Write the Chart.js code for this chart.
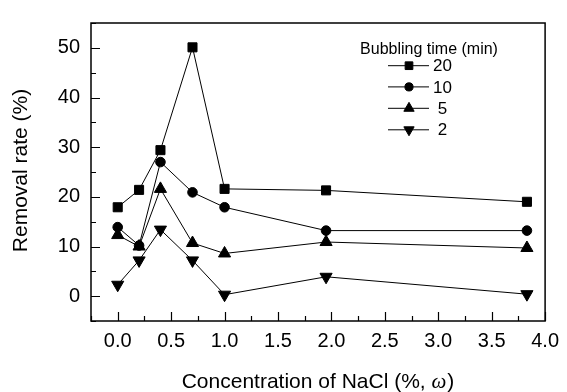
<!DOCTYPE html>
<html>
<head>
<meta charset="utf-8">
<script src="https://cdn.jsdelivr.net/npm/chart.js@4.4.1/dist/chart.umd.min.js"></script>
<style>
  html, body { margin: 0; padding: 0; background: #fff; }
  #wrap { width: 567px; height: 392px; position: relative; }
</style>
</head>
<body>
<div id="wrap"><canvas id="removalChart"></canvas></div>
<script>
// NaCl concentration (%, w) for each measurement
const naclConc = [0, 0.2, 0.4, 0.7, 1.0, 1.95, 3.83];

// removal rate (%) per bubbling time
const bubbling20 = [17.9, 21.4, 29.4, 50.1, 21.6, 21.3, 19.0];
const bubbling10 = [13.9, 10.2, 27.0, 20.9, 17.9, 13.2, 13.2];
const bubbling5 = [12.3, 10.0, 21.6, 10.7, 8.6, 10.9, 9.7];
const bubbling2 = [2.3, 7.2, 13.4, 7.2, 0.3, 3.9, 0.4];

const seriesLabels = ['20', '10', '5', '2'];
const xTicks = [0, 0.5, 1.0, 1.5, 2.0, 2.5, 3.0, 3.5, 4.0];
const yTicks = [0, 10, 20, 30, 40, 50];

const FONT = "'Liberation Sans', Arial, sans-serif";
const SERIF_IT = "italic 21px 'Liberation Serif', 'Times New Roman', serif";

const toPoints = (ys) => ys.map((v, i) => ({ x: naclConc[i], y: v }));

const makeSet = (label, data, style, radius, rotation) => ({
    label,
    data: toPoints(data),
    borderColor: '#000',
    backgroundColor: '#000',
    borderWidth: 1,
    pointStyle: style,
    pointRadius: radius,
    pointRotation: rotation || 0,
    pointBorderWidth: 1,
    pointBackgroundColor: '#000',
    pointBorderColor: '#000',
    tension: 0
});

// box around the plot + inward major/minor ticks
const frameTicks = {
    id: 'frameTicks',
    afterDraw(chart) {
        const { ctx, chartArea: a, scales: { x, y } } = chart;
        ctx.save();
        ctx.strokeStyle = '#000';
        ctx.lineWidth = 1.5;
        ctx.strokeRect(a.left, a.top, a.right - a.left, a.bottom - a.top);

        ctx.lineWidth = 1.2;
        ctx.beginPath();
        for (let v = x.min; v <= x.max + 1e-6; v += 0.25) {
            const major = xTicks.some(t => Math.abs(t - v) < 1e-6);
            const px = Math.round(x.getPixelForValue(v)) + 0.5;
            ctx.moveTo(px, a.bottom);
            ctx.lineTo(px, a.bottom - (major ? 9 : 5));
        }
        for (let v = y.min; v <= y.max + 1e-6; v += 5) {
            const major = yTicks.includes(v);
            const py = Math.round(y.getPixelForValue(v)) + 0.5;
            ctx.moveTo(a.left, py);
            ctx.lineTo(a.left + (major ? 9 : 5), py);
        }
        ctx.stroke();
        ctx.restore();
    }
};

// axis titles (x title carries an italic omega)
const axisTitles = {
    id: 'axisTitles',
    afterDraw(chart) {
        const { ctx } = chart;
        ctx.save();
        ctx.fillStyle = '#000';
        ctx.textBaseline = 'alphabetic';

        const partA = 'Concentration of NaCl (%, ';
        const partB = '\u03C9';
        const partC = ')';
        ctx.font = '21px ' + FONT;
        const wA = ctx.measureText(partA).width;
        const wC = ctx.measureText(partC).width;
        ctx.font = SERIF_IT;
        const wB = ctx.measureText(partB).width;
        const xs = 317.5 - (wA + wB + wC) / 2;
        const base = 388;
        ctx.font = '21px ' + FONT;
        ctx.fillText(partA, xs, base);
        ctx.font = SERIF_IT;
        ctx.fillText(partB, xs + wA, base);
        ctx.font = '21px ' + FONT;
        ctx.fillText(partC, xs + wA + wB + 1, base);

        ctx.translate(27, 170.5);
        ctx.rotate(-Math.PI / 2);
        ctx.textAlign = 'center';
        ctx.fillText('Removal rate (%)', 0, 0);
        ctx.restore();
    }
};

// legend: line-marker-line symbols under a title
const markerLegend = {
    id: 'markerLegend',
    afterDraw(chart) {
        const { ctx } = chart;
        ctx.save();
        ctx.fillStyle = '#000';
        ctx.strokeStyle = '#000';
        ctx.font = '16px ' + FONT;
        ctx.textAlign = 'center';
        ctx.textBaseline = 'alphabetic';
        ctx.fillText('Bubbling time (min)', 429, 54);

        ctx.font = '17px ' + FONT;
        ctx.textAlign = 'left';
        ctx.textBaseline = 'middle';
        const rows = [65.7, 86.9, 108.3, 129.8];
        chart.data.datasets.forEach((ds, i) => {
            const yy = rows[i];
            ctx.lineWidth = 1;
            ctx.beginPath();
            ctx.moveTo(388, yy);
            ctx.lineTo(429, yy);
            ctx.stroke();
            Chart.helpers.drawPoint(ctx, {
                pointStyle: ds.pointStyle,
                radius: ds.pointRadius * 0.85,
                rotation: ds.pointRotation,
                borderWidth: 1
            }, 409, yy);
            const txt = ds.label.length === 1 ? ' ' + ds.label : ds.label;
            ctx.fillText(txt, 433, yy + 1);
        });
        ctx.restore();
    }
};

new Chart(document.getElementById('removalChart'), {
    type: 'line',
    data: {
        datasets: [
            makeSet(seriesLabels[0], bubbling20, 'rect', 6.4),
            makeSet(seriesLabels[1], bubbling10, 'circle', 4.8),
            makeSet(seriesLabels[2], bubbling5, 'triangle', 7),
            makeSet(seriesLabels[3], bubbling2, 'triangle', 7, 180)
        ]
    },
    options: {
        responsive: true,
        maintainAspectRatio: false,
        animation: false,
        layout: { padding: { top: 13, right: 15, left: 0, bottom: 0 } },
        plugins: {
            legend: { display: false },
            tooltip: { enabled: false }
        },
        scales: {
            x: {
                type: 'linear',
                min: -0.25,
                max: 4.0,
                afterFit: (s) => { s.height = 71; },
                afterBuildTicks: (s) => { s.ticks = xTicks.map(v => ({ value: v })); },
                grid: { display: false, drawTicks: false },
                border: { display: false },
                ticks: {
                    padding: 8,
                    color: '#000',
                    font: { family: FONT, size: 20 },
                    maxRotation: 0,
                    callback: (v) => Number(v).toFixed(1)
                }
            },
            y: {
                type: 'linear',
                min: -5,
                max: 55,
                afterFit: (s) => { s.width = 91; },
                afterBuildTicks: (s) => { s.ticks = yTicks.map(v => ({ value: v })); },
                grid: { display: false, drawTicks: false },
                border: { display: false },
                ticks: {
                    padding: 11,
                    color: '#000',
                    font: { family: FONT, size: 20 },
                    callback: (v) => String(v)
                }
            }
        }
    },
    plugins: [frameTicks, axisTitles, markerLegend]
});
</script>
</body>
</html>
